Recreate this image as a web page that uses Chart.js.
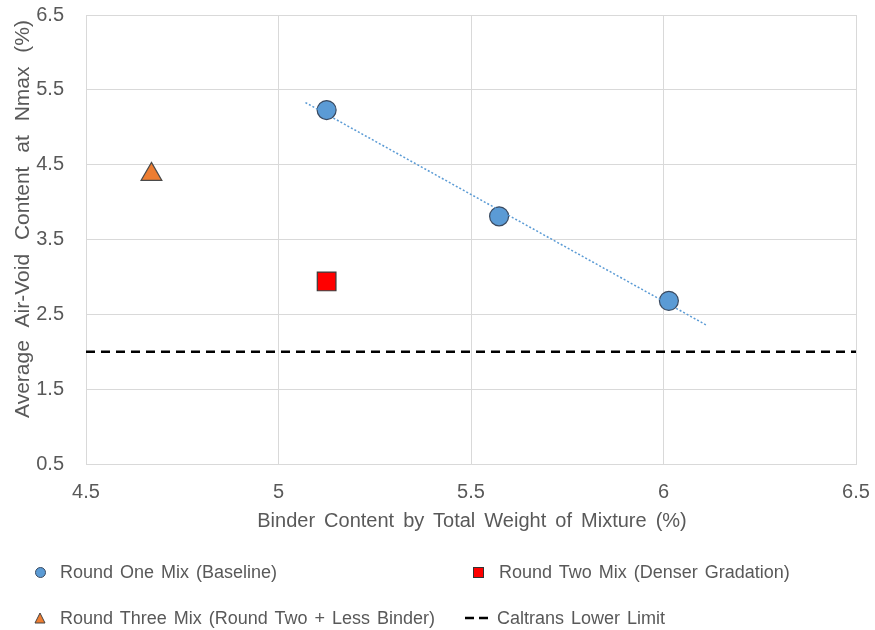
<!DOCTYPE html>
<html>
<head>
<meta charset="utf-8">
<script src="https://cdn.jsdelivr.net/npm/chart.js@4/dist/chart.umd.min.js"></script>
<style>
  html, body { margin: 0; padding: 0; background: #fff; }
  #wrap { position: relative; width: 875px; height: 630px; }
  #overlay { position: absolute; left: 0; top: 0; width: 875px; height: 630px; pointer-events: none;
             font-family: "Liberation Sans", Arial, sans-serif; color: #595959; }
  .item { position: absolute; white-space: nowrap; line-height: 20px; font-size: 18px; word-spacing: 2px; }
  .mk { position: absolute; }
  .mk svg { display: block; }
  #xTitle { position: absolute; left: 0; width: 944px; top: 508px; text-align: center; font-size: 20px;
            line-height: 24px; word-spacing: 3.5px; white-space: nowrap; }
  #yTitle { position: absolute; left: 22px; top: 219px; width: 600px; margin-left: -300px; margin-top: -12px;
            text-align: center; font-size: 21px; line-height: 24px; word-spacing: 8px; white-space: nowrap;
            transform: rotate(-90deg); }
</style>
</head>
<body>
<div id="wrap">
  <canvas id="chart" width="875" height="630"></canvas>
  <div id="overlay">
    <div id="xTitle">Binder Content by Total Weight of Mixture (%)</div>
    <div id="yTitle">Average Air-Void Content at Nmax (%)</div>
  </div>
</div>
<script>
// data
const roundOneX = [5.125, 5.573, 6.014];
const roundOneY = [5.23, 3.81, 2.68];
const roundTwoX = [5.125];
const roundTwoY = [2.94];
const roundThreeX = [4.67];
const roundThreeY = [4.37];
const trendX = [5.07, 6.11];
const trendY = [5.33, 2.36];
const limitX = [4.5, 6.5];
const limitY = [2.0, 2.0];

const xTicks = [4.5, 5, 5.5, 6, 6.5];
const yTicks = [0.5, 1.5, 2.5, 3.5, 4.5, 5.5, 6.5];

const seriesNames = [
  'Round One Mix (Baseline)',
  'Round Two Mix (Denser Gradation)',
  'Round Three Mix (Round Two + Less Binder)',
  'Caltrans Lower Limit'
];

const textColor = '#595959';
const gridColor = '#d9d9d9';
const fontFam = '"Liberation Sans", Arial, sans-serif';

function toPoints(xs, ys) {
  return xs.map((x, i) => ({ x: x, y: ys[i] }));
}

// drop the automatic label-overflow padding so the layout padding decides the plot box
function noPad(s) {
  s.paddingTop = 0;
  s.paddingBottom = 0;
  s.paddingLeft = 0;
  s.paddingRight = 0;
}

const ctx = document.getElementById('chart');
new Chart(ctx, {
  type: 'scatter',
  data: {
    datasets: [
      {
        label: 'trend',
        data: toPoints(trendX, trendY),
        showLine: true,
        borderColor: '#5b9bd5',
        borderWidth: 1.5,
        borderDash: [2, 2],
        pointRadius: 0
      },
      {
        label: seriesNames[3],
        data: toPoints(limitX, limitY),
        showLine: true,
        borderColor: '#000',
        borderWidth: 2.5,
        borderDash: [9, 6],
        pointRadius: 0
      },
      {
        label: seriesNames[0],
        data: toPoints(roundOneX, roundOneY),
        pointStyle: 'circle',
        pointRadius: 9.5,
        backgroundColor: '#5b9bd5',
        borderColor: '#3a4a60',
        borderWidth: 1.2
      },
      {
        label: seriesNames[1],
        data: toPoints(roundTwoX, roundTwoY),
        pointStyle: 'rect',
        pointRadius: 13.2,
        backgroundColor: '#ff0000',
        borderColor: '#3a3a3a',
        borderWidth: 1.2
      },
      {
        label: seriesNames[2],
        data: toPoints(roundThreeX, roundThreeY),
        pointStyle: 'triangle',
        pointRadius: 12,
        backgroundColor: '#ed7d31',
        borderColor: '#4a4a4a',
        borderWidth: 1.2
      }
    ]
  },
  options: {
    responsive: false,
    animation: false,
    layout: { padding: { top: 15, right: 19, left: 0, bottom: 90 } },
    plugins: {
      legend: { display: false },
      tooltip: { enabled: false }
    },
    scales: {
      x: {
        type: 'linear',
        min: 4.5,
        max: 6.5,
        afterBuildTicks: s => { s.ticks = xTicks.map(v => ({ value: v })); },
        afterFit: s => { s.height = 76; noPad(s); },
        grid: { color: gridColor, drawTicks: false, lineWidth: 1 },
        border: { color: gridColor },
        ticks: {
          padding: 16,
          color: textColor,
          font: { family: fontFam, size: 20 },
          callback: v => String(v)
        }
      },
      y: {
        type: 'linear',
        min: 0.5,
        max: 6.5,
        afterBuildTicks: s => { s.ticks = yTicks.map(v => ({ value: v })); },
        afterFit: s => { s.width = 86; noPad(s); },
        grid: { color: gridColor, drawTicks: false, lineWidth: 1 },
        border: { color: gridColor },
        ticks: {
          padding: 22,
          color: textColor,
          font: { family: fontFam, size: 20 },
          callback: v => String(v)
        }
      }
    }
  }
});

// legend laid out like the reference (two rows, two columns)
const legendSpots = [
  { x: 40, y: 572, tx: 60, kind: 'circle' },
  { x: 478, y: 572, tx: 499, kind: 'rect' },
  { x: 40, y: 618, tx: 60, kind: 'triangle' },
  { x: 478, y: 618, tx: 497, kind: 'dash' }
];
const overlay = document.getElementById('overlay');
legendSpots.forEach((p, i) => {
  const mk = document.createElement('div');
  mk.className = 'mk';
  if (p.kind === 'circle') {
    mk.style.cssText = `left:${p.x - 5}px;top:${p.y - 5}px;width:9px;height:9px;border-radius:50%;background:#5b9bd5;border:1px solid #3a4a60;`;
  } else if (p.kind === 'rect') {
    mk.style.cssText = `left:${p.x - 5}px;top:${p.y - 5}px;width:9px;height:9px;background:#ff0000;border:1px solid #333;`;
  } else if (p.kind === 'triangle') {
    mk.innerHTML = '<svg width="12" height="12"><polygon points="6,1 11,11 1,11" fill="#ed7d31" stroke="#444" stroke-width="1"/></svg>';
    mk.style.cssText = `left:${p.x - 6}px;top:${p.y - 6}px;`;
  } else {
    mk.innerHTML = '<svg width="26" height="6"><line x1="0" y1="3" x2="26" y2="3" stroke="#000" stroke-width="2.5" stroke-dasharray="9,5"/></svg>';
    mk.style.cssText = `left:${p.x - 13}px;top:${p.y - 3}px;`;
  }
  overlay.appendChild(mk);
  const t = document.createElement('div');
  t.className = 'item';
  t.textContent = seriesNames[i];
  t.style.left = p.tx + 'px';
  t.style.top = (p.y - 10) + 'px';
  overlay.appendChild(t);
});
</script>
</body>
</html>
